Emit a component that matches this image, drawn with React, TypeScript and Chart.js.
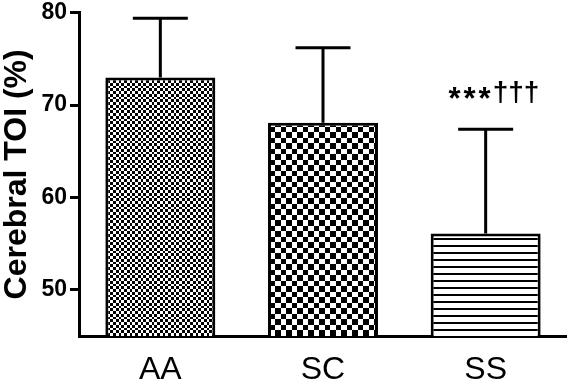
import { useEffect, useRef } from 'react';
import { Chart, registerables } from 'chart.js';

Chart.register(...registerables);

const groups = ['AA', 'SC', 'SS'];
const meanToi = [73.0, 68.1, 56.1];
const sdToi = [6.4, 8.1, 11.3];
const yTickValues = [50, 60, 70, 80];
const starMarks = ['', '', '***'];
const daggerMarks = ['', '', '†††'];

const FF = "'Liberation Sans', Arial, Helvetica, sans-serif";

function checkerPattern(cells: number[]): CanvasPattern | string {
  const size = cells.reduce((a, b) => a + b, 0);
  const c = document.createElement('canvas');
  c.width = size;
  c.height = size;
  const g = c.getContext('2d');
  if (!g) return '#888';
  g.fillStyle = '#fff';
  g.fillRect(0, 0, size, size);
  g.fillStyle = '#000';
  let y = 0;
  cells.forEach((h, j) => {
    let x = 0;
    cells.forEach((w, i) => {
      if ((i + j) % 2 === 0) g.fillRect(x, y, w, h);
      x += w;
    });
    y += h;
  });
  return g.createPattern(c, 'repeat') || '#888';
}

function stripePattern(period: number, line: number): CanvasPattern | string {
  const c = document.createElement('canvas');
  c.width = 4;
  c.height = period;
  const g = c.getContext('2d');
  if (!g) return '#ccc';
  g.fillStyle = '#fff';
  g.fillRect(0, 0, 4, period);
  g.fillStyle = '#000';
  g.fillRect(0, 0, 4, line);
  return g.createPattern(c, 'repeat') || '#ccc';
}

const errorBarPlugin = {
  id: 'errorBars',
  afterDatasetsDraw(chart: any) {
    const ctx = chart.ctx;
    const meta = chart.getDatasetMeta(0);
    const y = chart.scales.y;
    ctx.save();
    ctx.strokeStyle = '#000';
    ctx.lineWidth = 3;
    ctx.lineCap = 'butt';
    meta.data.forEach((bar: any, i: number) => {
      const p = bar.getProps(['x', 'y', 'width'], true);
      const top = y.getPixelForValue(meanToi[i] + sdToi[i]);
      const half = p.width / 4;
      ctx.beginPath();
      ctx.moveTo(p.x, p.y);
      ctx.lineTo(p.x, top);
      ctx.moveTo(p.x - half, top);
      ctx.lineTo(p.x + half, top);
      ctx.stroke();

      ctx.fillStyle = '#000';
      if (starMarks[i]) {
        ctx.font = `bold 31px ${FF}`;
        ctx.textAlign = 'right';
        ctx.textBaseline = 'alphabetic';
        (ctx as any).letterSpacing = '3px';
        ctx.fillText(starMarks[i], p.x + 8, top - 20);
        (ctx as any).letterSpacing = '0px';
      }
      if (daggerMarks[i]) {
        ctx.font = `bold 28px ${FF}`;
        ctx.textAlign = 'left';
        ctx.textBaseline = 'alphabetic';
        ctx.fillText(daggerMarks[i], p.x + 7, top - 28);
      }
    });
    ctx.restore();
  },
};

export default function App() {
  const ref = useRef<HTMLCanvasElement | null>(null);

  useEffect(() => {
    if (!ref.current) return;
    const fills = [checkerPattern([3, 3, 3, 2]), checkerPattern([6, 5]), stripePattern(7, 2)];
    const chart = new Chart(ref.current, {
      type: 'bar',
      data: {
        labels: groups,
        datasets: [
          {
            data: meanToi,
            backgroundColor: fills as any,
            borderColor: '#000',
            borderWidth: 3,
            borderSkipped: false,
            barPercentage: 1,
            categoryPercentage: 0.676,
          },
        ],
      },
      options: {
        animation: false,
        responsive: false,
        maintainAspectRatio: false,
        layout: { padding: { top: 10, right: 0, left: 0, bottom: 0 } },
        plugins: { legend: { display: false }, tooltip: { enabled: false } },
        scales: {
          x: {
            grid: { display: false, drawTicks: false },
            border: { display: true, color: '#000', width: 3 },
            ticks: {
              font: { family: FF, size: 32, lineHeight: 1 },
              color: '#000',
              padding: 18,
              maxRotation: 0,
            },
            afterFit: (s: any) => {
              s.height = 45;
            },
          },
          y: {
            min: 45,
            max: 80,
            afterBuildTicks: (s: any) => {
              s.ticks = yTickValues.map((v) => ({ value: v }));
            },
            grid: { drawOnChartArea: false, tickLength: 9, color: '#000', lineWidth: 3 },
            border: { display: true, color: '#000', width: 3 },
            ticks: {
              font: { family: FF, size: 23, weight: 'bold', lineHeight: 0.85 },
              color: '#000',
              padding: 3,
            },
            title: {
              display: true,
              text: 'Cerebral TOI (%)',
              font: { family: FF, size: 32, weight: 'bold', lineHeight: 1 },
              color: '#000',
              padding: { top: 1, bottom: 0 },
            },
            afterFit: (s: any) => {
              s.width = 79;
            },
          },
        },
      },
      plugins: [errorBarPlugin],
    });
    return () => chart.destroy();
  }, []);

  return (
    <div style={{ position: 'fixed', left: 0, top: 0, width: 567, height: 381, background: '#fff' }}>
      <canvas ref={ref} width={567} height={381} style={{ display: 'block' }} />
    </div>
  );
}
